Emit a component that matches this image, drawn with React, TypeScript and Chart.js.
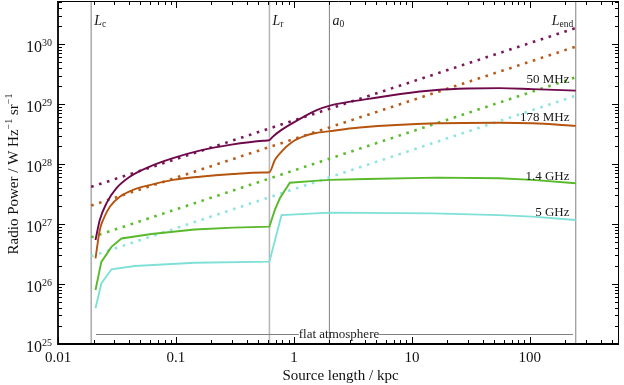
import React, { useEffect, useRef } from "react";
import { Chart, registerables } from "chart.js";

Chart.register(...registerables);

const SERIF = '"Liberation Serif", "Times New Roman", serif';

// Characteristic lengths (kpc)
const markerX = [0.0191, 0.62, 2.0, 245];
const markerMain = ["L", "L", "a", "L"];
const markerSub = ["c", "r", "0", "end"];

// Axis ticks
const xMajor = [0.01, 0.1, 1, 10, 100];
const xMajorLabels = ["0.01", "0.1", "1", "10", "100"];
const yExponents = [25, 26, 27, 28, 29, 30];

// Solid curves: radio power (W Hz^-1 sr^-1) vs source length (kpc)
const x50 = [0.0208, 0.0226, 0.0258, 0.0313, 0.0406, 0.06, 0.0944, 0.159, 0.286, 0.55, 0.62, 0.66, 0.785, 1.085, 1.56, 2.02, 4.0, 8.0, 16.2, 30, 55, 105, 245];
const y50 = [5.43e26, 1.17e27, 2.24e27, 3.98e27, 6.17e27, 9.12e27, 1.26e28, 1.68e28, 2.09e28, 2.45e28, 2.51e28, 2.85e28, 3.72e28, 5.46e28, 7.94e28, 9.46e28, 1.20e29, 1.48e29, 1.72e29, 1.82e29, 1.85e29, 1.78e29, 1.68e29];

const x178 = [0.0208, 0.0226, 0.0241, 0.0275, 0.0334, 0.0433, 0.06, 0.0944, 0.159, 0.305, 0.55, 0.62, 0.689, 0.785, 0.954, 1.237, 1.5, 2.02, 3.62, 16.2, 55, 105, 245];
const y178 = [2.69e26, 7.94e26, 1.17e27, 1.95e27, 2.86e27, 3.72e27, 4.47e27, 5.45e27, 6.17e27, 6.85e27, 7.25e27, 7.33e27, 1.17e28, 1.62e28, 2.29e28, 2.95e28, 3.27e28, 3.55e28, 4.07e28, 4.79e28, 4.90e28, 4.79e28, 4.34e28];

const x14 = [0.0208, 0.0233, 0.0284, 0.0345, 0.0619, 0.144, 0.305, 0.62, 0.689, 0.76, 0.923, 1.5, 2.02, 4.13, 16.2, 55, 105, 245];
const y14 = [7.94e25, 2.34e26, 4.17e26, 5.75e26, 6.84e26, 8.13e26, 8.71e26, 9.06e26, 1.72e27, 2.69e27, 4.90e27, 5.25e27, 5.45e27, 5.66e27, 5.96e27, 5.82e27, 5.45e27, 4.79e27];

const x5 = [0.0208, 0.0233, 0.0284, 0.0447, 0.144, 0.62, 0.785, 2.02, 15.1, 55, 105, 245];
const y5 = [3.94e25, 1.02e26, 1.76e26, 2.0e26, 2.27e26, 2.36e26, 1.41e27, 1.55e27, 1.51e27, 1.41e27, 1.33e27, 1.17e27];

// Dotted power laws from L_c to L_end
const dotX = [0.0191, 245];
const dot50 = [4.17e27, 1.86e30];
const dot178 = [2.04e27, 9.1e29];
const dot14 = [6.0e26, 2.8e29];
const dot5 = [2.9e26, 1.38e29];

// Curve labels (anchor x, baseline y in data units)
const freqLabels = ["50 MHz", "178 MHz", "1.4 GHz", "5 GHz"];
const freqLabelX = 217;
const freqLabelY = [2.24e29, 5.3e28, 5.45e27, 1.36e27];

// Flat atmosphere span
const flatX = [0.021, 232];
const flatY = 1.47e25;
const flatGap = [1.1, 5.28];
const flatText = "flat atmosphere";

const COLORS = ["#6e0a4b", "#b4540f", "#58b92b", "#7fe0d8"];
const DOT_COLORS = ["#7a1858", "#b85c1c", "#5cbc30", "#8ee4e2"];
const SMOOTH = [true, true, false, false];

type Part = { t: string; font: string; dy?: number };

function drawRich(ctx: CanvasRenderingContext2D, parts: Part[], x: number, y: number, align: string) {
  let total = 0;
  const widths: number[] = [];
  for (const p of parts) {
    ctx.font = p.font;
    const w = ctx.measureText(p.t).width;
    widths.push(w);
    total += w;
  }
  let cx = align === "right" ? x - total : align === "center" ? x - total / 2 : x;
  ctx.textAlign = "left";
  ctx.textBaseline = "alphabetic";
  parts.forEach((p, i) => {
    ctx.font = p.font;
    ctx.fillText(p.t, cx, y + (p.dy || 0));
    cx += widths[i];
  });
}

const overlay = {
  id: "overlay",
  beforeDatasetsDraw(chart: any) {
    const { ctx, chartArea: a, scales } = chart;
    const xs = scales.x, ys = scales.y;
    ctx.save();
    markerX.forEach((v, i) => {
      const px = xs.getPixelForValue(v);
      ctx.beginPath();
      ctx.strokeStyle = i === 1 ? "#b8b8b8" : "#8c8c8c";
      ctx.lineWidth = i === 1 ? 1.6 : 1.1;
      ctx.moveTo(px, a.top);
      ctx.lineTo(px, a.bottom);
      ctx.stroke();
    });
    const fy = Math.round(ys.getPixelForValue(flatY)) + 0.5;
    ctx.strokeStyle = "#808080";
    ctx.lineWidth = 1;
    ctx.beginPath();
    ctx.moveTo(xs.getPixelForValue(flatX[0]), fy);
    ctx.lineTo(xs.getPixelForValue(flatGap[0]), fy);
    ctx.stroke();
    ctx.beginPath();
    ctx.moveTo(xs.getPixelForValue(flatGap[1]), fy);
    ctx.lineTo(xs.getPixelForValue(flatX[1]), fy);
    ctx.stroke();
    ctx.restore();
  },
  afterDatasetsDraw(chart: any) {
    const { ctx, chartArea: a, scales } = chart;
    const xs = scales.x, ys = scales.y;
    ctx.save();
    ctx.fillStyle = "#1a1a1a";
    const fy = ys.getPixelForValue(flatY);
    const gx = (xs.getPixelForValue(flatGap[0]) + xs.getPixelForValue(flatGap[1])) / 2;
    drawRich(ctx, [{ t: flatText, font: `13px ${SERIF}` }], gx, fy + 4, "center");

    markerX.forEach((v, i) => {
      const px = xs.getPixelForValue(v);
      const parts: Part[] = [
        { t: markerMain[i], font: `italic 14px ${SERIF}` },
        { t: markerSub[i], font: `9.5px ${SERIF}`, dy: 2 },
      ];
      if (i === 3) drawRich(ctx, parts, px - 2.5, a.top + 24, "right");
      else drawRich(ctx, parts, px + 3, a.top + 24, "left");
    });

    freqLabels.forEach((t, i) => {
      drawRich(ctx, [{ t, font: `13px ${SERIF}` }], xs.getPixelForValue(freqLabelX), ys.getPixelForValue(freqLabelY[i]), "right");
    });

    // frame
    ctx.strokeStyle = "#000";
    ctx.lineWidth = 1;
    ctx.beginPath();
    ctx.moveTo(a.left, a.top + 0.5);
    ctx.lineTo(a.right, a.top + 0.5);
    ctx.moveTo(a.right - 0.5, a.top);
    ctx.lineTo(a.right - 0.5, a.bottom);
    ctx.stroke();
    ctx.lineWidth = 1.8;
    ctx.beginPath();
    ctx.moveTo(a.left, a.top);
    ctx.lineTo(a.left, a.bottom);
    ctx.lineTo(a.right, a.bottom);
    ctx.stroke();

    // ticks
    ctx.lineWidth = 1;
    ctx.beginPath();
    for (let d = -2; d <= 2; d++) {
      for (let m = 1; m <= 9; m++) {
        const v = m * Math.pow(10, d);
        if (v < xs.min || v > xs.max) continue;
        const px = Math.round(xs.getPixelForValue(v)) + 0.5;
        const len = m === 1 ? 7 : 4;
        ctx.moveTo(px, a.bottom);
        ctx.lineTo(px, a.bottom - len);
        ctx.moveTo(px, a.top);
        ctx.lineTo(px, a.top + len);
      }
    }
    for (let e = 25; e <= 30; e++) {
      for (let m = 1; m <= 9; m++) {
        const v = m * Math.pow(10, e);
        if (v < ys.min || v > ys.max) continue;
        const py = Math.round(ys.getPixelForValue(v)) + 0.5;
        const len = m === 1 ? 7 : 4;
        ctx.moveTo(a.left, py);
        ctx.lineTo(a.left + len, py);
        ctx.moveTo(a.right, py);
        ctx.lineTo(a.right - len, py);
      }
    }
    ctx.stroke();

    // tick labels
    ctx.fillStyle = "#111";
    xMajor.forEach((v, i) => {
      drawRich(ctx, [{ t: xMajorLabels[i], font: `15px ${SERIF}` }], xs.getPixelForValue(v), a.bottom + 18, "center");
    });
    yExponents.forEach((e) => {
      const py = ys.getPixelForValue(Math.pow(10, e));
      ctx.font = `10px ${SERIF}`;
      const ew = ctx.measureText(String(e)).width;
      const right = a.left - 6;
      drawRich(ctx, [{ t: String(e), font: `10px ${SERIF}` }], right, py + 1.5, "right");
      drawRich(ctx, [{ t: "10", font: `16px ${SERIF}` }], right - ew, py + 7.5, "right");
    });

    // axis titles
    drawRich(ctx, [{ t: "Source length / kpc", font: `15px ${SERIF}` }], (a.left + a.right) / 2 + 2, 380, "center");
    ctx.save();
    ctx.translate(18, 174);
    ctx.rotate(-Math.PI / 2);
    drawRich(
      ctx,
      [
        { t: "Radio Power / W Hz", font: `15px ${SERIF}` },
        { t: "\u22121", font: `10px ${SERIF}`, dy: -6 },
        { t: " sr", font: `15px ${SERIF}` },
        { t: "\u22121", font: `10px ${SERIF}`, dy: -6 },
      ],
      0,
      0,
      "center"
    );
    ctx.restore();
    ctx.restore();
  },
};

function pts(xs: number[], ys: number[]) {
  return xs.map((x, i) => ({ x, y: ys[i] }));
}

export default function App() {
  const ref = useRef<HTMLCanvasElement | null>(null);
  useEffect(() => {
    document.body.style.margin = "0";
    const canvas = ref.current!;
    const solid = [
      [x50, y50],
      [x178, y178],
      [x14, y14],
      [x5, y5],
    ];
    const dots = [dot50, dot178, dot14, dot5];
    const datasets: any[] = [];
    solid.forEach(([xx, yy], i) => {
      datasets.push({
        data: pts(xx, yy),
        borderColor: COLORS[i],
        borderWidth: 1.9,
        pointRadius: 0,
        tension: 0,
        cubicInterpolationMode: SMOOTH[i] ? "monotone" : "default",
        fill: false,
      });
    });
    dots.forEach((d, i) => {
      datasets.push({
        data: pts(dotX, d),
        borderColor: DOT_COLORS[i],
        borderWidth: 2.6,
        borderDash: [2.6, 5.7],
        borderCapStyle: "butt",
        pointRadius: 0,
        tension: 0,
        fill: false,
      });
    });
    const chart = new Chart(canvas, {
      type: "line",
      data: { datasets },
      options: {
        animation: false,
        responsive: false,
        devicePixelRatio: 1,
        layout: { padding: { left: 58, right: 5, top: 1, bottom: 41 } },
        plugins: { legend: { display: false }, tooltip: { enabled: false } },
        scales: {
          x: { type: "logarithmic", min: 0.01, max: 570, display: false },
          y: { type: "logarithmic", min: 1e25, max: 5.25e30, display: false },
        },
      },
      plugins: [overlay],
    } as any);
    return () => chart.destroy();
  }, []);
  return <canvas ref={ref} width={624} height={385} style={{ display: "block" }} />;
}
